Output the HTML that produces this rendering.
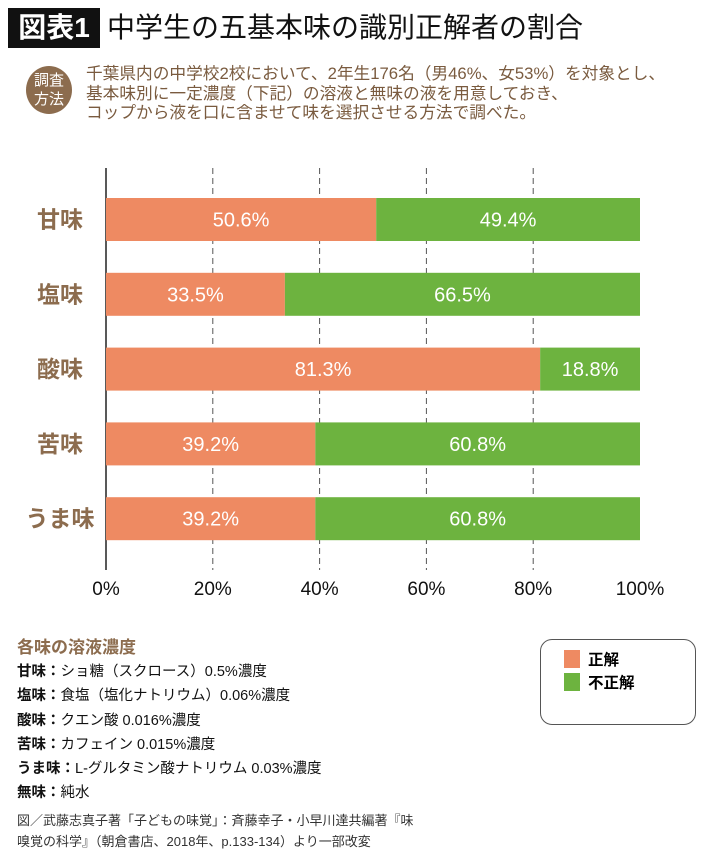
<!DOCTYPE html>
<html><head><meta charset="utf-8"><style>
body{margin:0;width:710px;height:861px;background:#fff;position:relative;font-family:"Liberation Sans","Noto Sans CJK JP",sans-serif;overflow:hidden}
.a{position:absolute;white-space:nowrap}
</style></head><body>
<div class="a" style="left:8px;top:8px;width:92px;height:40px;background:#111;color:#fff;font-size:28px;font-weight:bold;line-height:40px;text-align:center">図表1</div>
<div class="a" style="left:107px;top:9px;font-size:28px;line-height:38px;color:#111">中学生の五基本味の識別正解者の割合</div>
<div class="a" style="left:26px;top:66px;width:46px;height:48px;border-radius:50%;background:#8c6c4e;color:#fff;font-size:15px;line-height:19px;text-align:center;padding-top:5px;box-sizing:border-box">調査<br>方法</div>
<div class="a" style="left:86px;top:64px;font-size:16.7px;line-height:19.5px;color:#7a5b3f">千葉県内の中学校2校において、2年生176名（男46%、女53%）を対象とし、<br>基本味別に一定濃度（下記）の溶液と無味の液を用意しておき、<br>コップから液を口に含ませて味を選択させる方法で調べた。</div>
<svg class="a" style="left:0;top:0" width="710" height="620">
<g id="g"></g>
</svg>
<div class="a" style="left:17px;top:633px;font-size:17px;font-weight:bold;color:#8c6c4e">各味の溶液濃度</div>
<div class="a" style="left:17px;top:660px;font-size:14.5px;line-height:24.3px;color:#111"><b>甘味：</b>ショ糖（スクロース）0.5%濃度<br><b>塩味：</b>食塩（塩化ナトリウム）0.06%濃度<br><b>酸味：</b>クエン酸 0.016%濃度<br><b>苦味：</b>カフェイン 0.015%濃度<br><b>うま味：</b>L-グルタミン酸ナトリウム 0.03%濃度<br><b>無味：</b>純水</div>
<div class="a" style="left:17px;top:810px;font-size:13px;line-height:21px;color:#333">図／武藤志真子著「子どもの味覚」：斉藤幸子・小早川達共編著『味<br>嗅覚の科学』（朝倉書店、2018年、p.133-134）より一部改変</div>
<div class="a" style="left:540px;top:639px;width:156px;height:86px;border:1px solid #555;border-radius:12px;box-sizing:border-box">
<div class="a" style="left:23px;top:8px;font-size:15.5px;font-weight:bold"><span style="display:inline-block;width:16px;height:18px;background:#ee8a62;vertical-align:-3px;margin-right:8px"></span>正解</div>
<div class="a" style="left:23px;top:31px;font-size:15.5px;font-weight:bold"><span style="display:inline-block;width:16px;height:18px;background:#6db33f;vertical-align:-3px;margin-right:8px"></span>不正解</div>
</div>
<script>
const categories=["甘味","塩味","酸味","苦味","うま味"];
const correct=[50.6,33.5,81.3,39.2,39.2];
const incorrect=[49.4,66.5,18.8,60.8,60.8];
const ticks=[0,20,40,60,80,100];
const NS="http://www.w3.org/2000/svg",g=document.getElementById("g");
const x=v=>106+v*5.34, yc=i=>219.5+i*74.8, bh=43;
function mk(t,a,txt){const e=document.createElementNS(NS,t);for(const k in a)e.setAttribute(k,a[k]);if(txt!=null)e.textContent=txt;g.appendChild(e);return e;}
ticks.forEach(t=>{
 if(t>0&&t<100){const l=mk("line",{x1:x(t),x2:x(t),y1:168,y2:570,stroke:"#555","stroke-width":1,"stroke-dasharray":"6,4"});
 
 }
 const tx=mk("text",{x:x(t),y:595,"text-anchor":"middle","font-size":19,fill:"#111"},t+"%");
 
 
});
const ax=mk("line",{x1:x(0),x2:x(0),y1:168,y2:570,stroke:"#222","stroke-width":1.5});


categories.forEach((c,i)=>{
 const y=yc(i)-bh/2;
 const l=mk("text",{x:60,y:yc(i)+8,"text-anchor":"middle","font-size":23,"font-weight":"bold",fill:"#8c6c4e"},c);
 
 
 const r1=mk("rect",{x:x(0),y:y,width:x(correct[i])-x(0),height:bh,fill:"#ee8a62"});
 
 
 const r2=mk("rect",{x:x(correct[i]),y:y,width:Math.min(x(100),x(correct[i]+incorrect[i]))-x(correct[i]),height:bh,fill:"#6db33f"});
 
 
 const t1=mk("text",{x:(x(0)+x(correct[i]))/2,y:yc(i)+7,"text-anchor":"middle","font-size":20,fill:"#fff"},correct[i].toFixed(1)+"%");
 
 
 const t2=mk("text",{x:(x(correct[i])+x(100))/2,y:yc(i)+7,"text-anchor":"middle","font-size":20,fill:"#fff"},incorrect[i].toFixed(1)+"%");
 
 
});
</script>
</body></html>
